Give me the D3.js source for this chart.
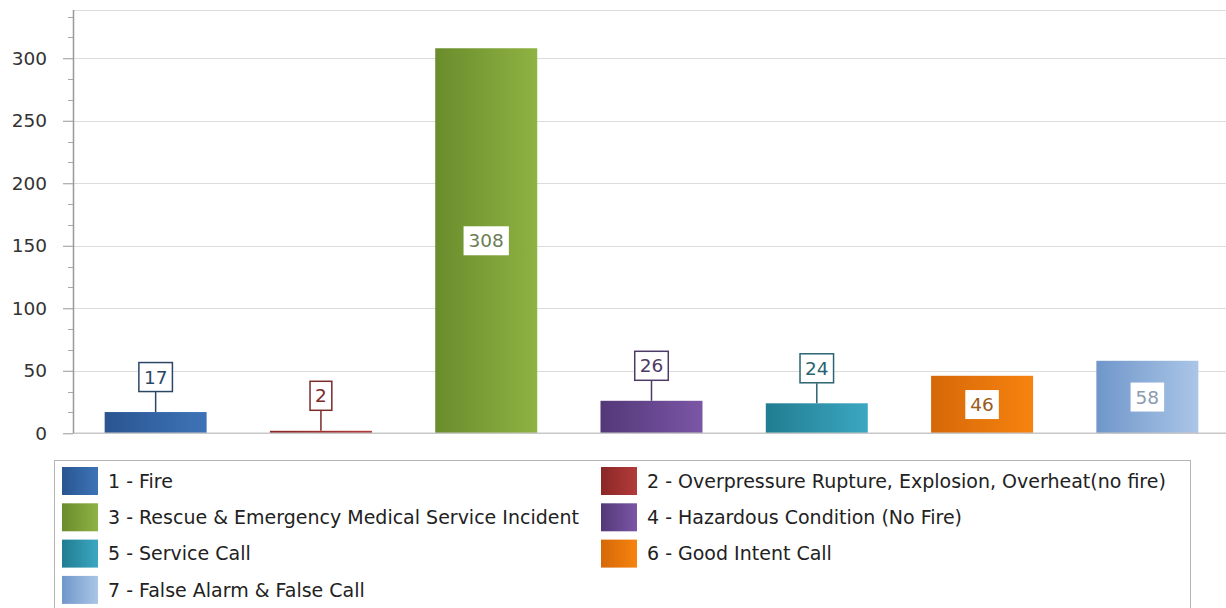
<!DOCTYPE html>
<html>
<head>
<meta charset="utf-8">
<script src="https://cdn.jsdelivr.net/npm/d3@7"></script>
<style>
  body { margin: 0; background: #fff; }
  svg text { font-family: "DejaVu Sans", Verdana, sans-serif; }
</style>
</head>
<body>
<div id="chart"></div>
<script>
// incident types and counts
const categories = [
  "1 - Fire",
  "2 - Overpressure Rupture, Explosion, Overheat(no fire)",
  "3 - Rescue & Emergency Medical Service Incident",
  "4 - Hazardous Condition (No Fire)",
  "5 - Service Call",
  "6 - Good Intent Call",
  "7 - False Alarm & False Call"
];
const counts = [17, 2, 308, 26, 24, 46, 58];
const yTicks = [0, 50, 100, 150, 200, 250, 300];
// gradient left / right, label colour
const colorsDark = ["#2a5591", "#8a2727", "#6a8c2c", "#533878", "#217d91", "#d56808", "#7096ca"];
const colorsLight = ["#3d74b7", "#b23c3a", "#8fb243", "#7b56a6", "#3ba7c2", "#f7830f", "#aac6e7"];
const labelInk = ["#2c4766", "#7c2a2a", "#6c7d55", "#4d3b66", "#2b6470", "#9a5a20", "#8a9bb0"];
// labels that sit inside the bar (no connector)
const labelInside = [false, false, true, false, false, true, true];

const width = 1226, height = 608;
const margin = {top: 10, left: 73, bottom: 175};
const y0 = height - margin.bottom + 0.3;
const fontSize = 18.5;

const svg = d3.select("#chart").append("svg")
    .attr("width", width)
    .attr("height", height);

const defs = svg.append("defs");
categories.forEach((c, i) => {
  const g = defs.append("linearGradient")
      .attr("id", "grad" + i)
      .attr("x1", "0%").attr("x2", "100%").attr("y1", "0%").attr("y2", "0%");
  g.append("stop").attr("offset", "0%").attr("stop-color", colorsDark[i]);
  g.append("stop").attr("offset", "100%").attr("stop-color", colorsLight[i]);
});

const x = d3.scaleBand()
    .domain(categories)
    .range([margin.left, 1230])
    .paddingInner(0.383)
    .paddingOuter(0.1915);

const y = d3.scaleLinear()
    .domain([0, 338.6])
    .range([y0, margin.top]);

// grid lines
svg.append("g")
  .selectAll("line")
  .data(yTicks.slice(1))
  .join("line")
    .attr("x1", margin.left)
    .attr("x2", width)
    .attr("y1", d => Math.round(y(d)) + 0.5)
    .attr("y2", d => Math.round(y(d)) + 0.5)
    .attr("stroke", "#dcdcdc");

// top border line
svg.append("line")
    .attr("x1", margin.left).attr("x2", width)
    .attr("y1", margin.top + 0.5).attr("y2", margin.top + 0.5)
    .attr("stroke", "#dcdcdc");

// bars
svg.append("g")
  .selectAll("rect")
  .data(counts)
  .join("rect")
    .attr("x", (d, i) => x(categories[i]))
    .attr("width", x.bandwidth())
    .attr("y", d => y(d))
    .attr("height", d => y0 - y(d))
    .attr("fill", (d, i) => `url(#grad${i})`);

// x axis line
svg.append("line")
    .attr("x1", margin.left).attr("x2", width)
    .attr("y1", y0).attr("y2", y0)
    .attr("stroke", "#c8c8c8")
    .attr("stroke-width", 1.5);

// y axis
const minorTicks = d3.range(0, 339, 50 / 3);
const yAxis = svg.append("g")
    .attr("transform", `translate(${margin.left},0)`)
    .call(d3.axisLeft(y).tickValues(yTicks).tickSize(10).tickPadding(16).tickFormat(d3.format("d")));
yAxis.select(".domain").remove();
yAxis.selectAll(".tick line").attr("stroke", "#999");
yAxis.selectAll(".tick text")
    .attr("fill", "#333")
    .attr("font-size", fontSize);
yAxis.append("g")
  .selectAll("line")
  .data(minorTicks.filter((d, i) => i % 3 !== 0))
  .join("line")
    .attr("x1", -5).attr("x2", 0)
    .attr("y1", d => Math.round(y(d)) + 0.5)
    .attr("y2", d => Math.round(y(d)) + 0.5)
    .attr("stroke", "#aaa");
yAxis.append("line")
    .attr("x1", 0.5).attr("x2", 0.5)
    .attr("y1", margin.top).attr("y2", y0)
    .attr("stroke", "#999")
    .attr("stroke-width", 1.5);

// value labels
const labels = svg.append("g")
  .selectAll("g")
  .data(counts)
  .join("g")
    .attr("transform", (d, i) => {
      const cx = x(categories[i]) + x.bandwidth() / 2;
      const cy = labelInside[i] ? (y(d) + y0) / 2 : y(d) - 35;
      return `translate(${cx},${cy})`;
    });

labels.each(function(d, i) {
  const g = d3.select(this);
  if (!labelInside[i]) {
    g.append("line")
        .attr("x1", 0).attr("x2", 0)
        .attr("y1", 15).attr("y2", 35)
        .attr("stroke", labelInk[i])
        .attr("stroke-width", 1.5);
  }
  const t = g.append("text")
      .attr("text-anchor", "middle")
      .attr("dy", "0.36em")
      .attr("font-size", fontSize)
      .attr("fill", labelInk[i])
      .text(d);
  const w = t.node().getComputedTextLength() + 10;
  g.insert("rect", "text")
      .attr("x", -w / 2)
      .attr("y", -14.5)
      .attr("width", w)
      .attr("height", 29)
      .attr("fill", "#fff")
      .attr("stroke", labelInside[i] ? "none" : labelInk[i])
      .attr("stroke-width", 1.5);
});

// legend
const legend = svg.append("g");
legend.append("rect")
    .attr("x", 54.5).attr("y", 460.5)
    .attr("width", 1136).attr("height", 160)
    .attr("fill", "#fff")
    .attr("stroke", "#b4b4b4");

const items = legend.selectAll("g")
  .data(categories)
  .join("g")
    .attr("transform", (d, i) => `translate(${i % 2 ? 601 : 62},${467 + Math.floor(i / 2) * 36.3})`);
items.append("rect")
    .attr("width", 36).attr("height", 28)
    .attr("fill", (d, i) => `url(#grad${i})`);
items.append("text")
    .attr("x", 46).attr("y", 14)
    .attr("dy", "0.36em")
    .attr("font-size", 19)
    .attr("fill", "#222")
    .text(d => d);
</script>
</body>
</html>
